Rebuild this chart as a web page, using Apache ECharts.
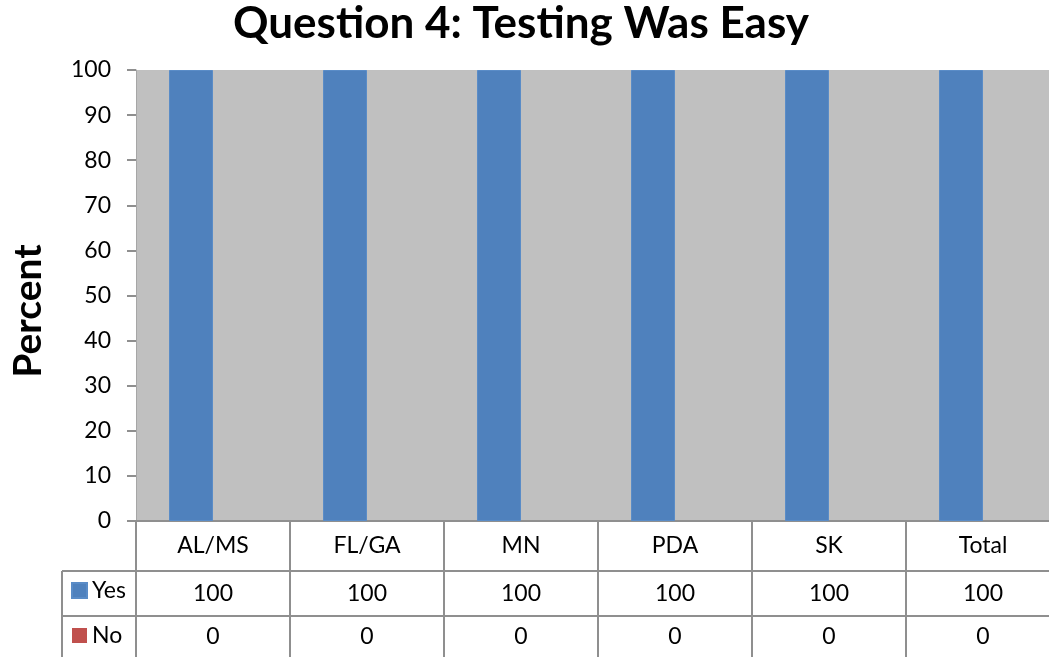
<!DOCTYPE html>
<html>
<head>
<meta charset="utf-8">
<script src="https://cdn.jsdelivr.net/npm/echarts@6/dist/echarts.min.js"></script>
<style>
  html, body { margin: 0; padding: 0; background: #fff; }
  #main { width: 1049px; height: 657px; }
</style>
</head>
<body>
<div id="main"></div>
<script>
// 数据
var titleText = 'Question 4: Testing Was Easy';
var yAxisTitle = 'Percent';
var categories = ['AL/MS', 'FL/GA', 'MN', 'PDA', 'SK', 'Total'];
var yesValues = [100, 100, 100, 100, 100, 100];
var noValues = [0, 0, 0, 0, 0, 0];

var font = 'Lato';
var lineGray = '#8f8f8f';

var chart = echarts.init(document.getElementById('main'));

var option = {
    animation: false,
    textStyle: { fontFamily: font },
    title: {
        text: titleText,
        left: 521,
        textAlign: 'center',
        top: 2,
        padding: 0,
        textStyle: { fontSize: 44, fontWeight: 'bold', color: '#000', fontFamily: font }
    },
    legend: {
        orient: 'vertical',
        left: 71,
        top: 579,
        padding: 0,
        itemWidth: 15,
        itemHeight: 15,
        itemGap: 22,
        icon: 'rect',
        data: ['Yes', 'No'],
        textStyle: { fontSize: 23, color: '#000', fontFamily: font }
    },
    grid: {
        left: 136,
        top: 70,
        width: 924,
        height: 451,
        outerBoundsMode: 'none',
        show: true,
        backgroundColor: '#c0c0c0',
        borderWidth: 0
    },
    xAxis: [
        {
            type: 'category',
            data: categories,
            position: 'bottom',
            axisLine: { lineStyle: { color: lineGray, width: 2 } },
            axisTick: { show: true, length: 140, lineStyle: { color: lineGray, width: 2 } },
            axisLabel: { fontSize: 23, color: '#000', margin: 13 }
        },
        {
            type: 'category',
            data: yesValues.map(String),
            position: 'bottom',
            offset: 50,
            axisLine: { show: false },
            axisTick: { show: false },
            axisLabel: { fontSize: 23, color: '#000', margin: 11 }
        },
        {
            type: 'category',
            data: noValues.map(String),
            position: 'bottom',
            offset: 95,
            axisLine: { show: false },
            axisTick: { show: false },
            axisLabel: { fontSize: 23, color: '#000', margin: 9 }
        }
    ],
    yAxis: {
        type: 'value',
        min: 0,
        max: 100,
        interval: 10,
        axisLine: { show: true, lineStyle: { color: '#a6a6a6', width: 1 } },
        axisTick: { show: true, length: 9, lineStyle: { color: lineGray, width: 2 } },
        axisLabel: { fontSize: 23, color: '#000', margin: 25 },
        splitLine: { show: false }
    },
    graphic: [
        // 表格横线
        { type: 'line', shape: { x1: 62, y1: 571, x2: 1049, y2: 571 }, style: { stroke: lineGray, lineWidth: 2 } },
        { type: 'line', shape: { x1: 62, y1: 616, x2: 1049, y2: 616 }, style: { stroke: lineGray, lineWidth: 2 } },
        { type: 'line', shape: { x1: 62, y1: 571, x2: 62, y2: 657 }, style: { stroke: lineGray, lineWidth: 2 } },
        {
            type: 'text',
            x: 28,
            y: 311,
            rotation: Math.PI / 2,
            style: {
                text: yAxisTitle,
                font: 'bold 39px ' + font,
                fill: '#000',
                align: 'center',
                verticalAlign: 'middle'
            }
        }
    ],
    series: [
        {
            name: 'Yes',
            type: 'bar',
            data: yesValues,
            barWidth: 44,
            barGap: '0%',
            itemStyle: { color: '#4f81bd', borderColor: '#5a8cc7', borderWidth: 1 }
        },
        {
            name: 'No',
            type: 'bar',
            data: noValues,
            barWidth: 44,
            itemStyle: { color: '#c0504d' }
        }
    ]
};

chart.setOption(option);
</script>
</body>
</html>
